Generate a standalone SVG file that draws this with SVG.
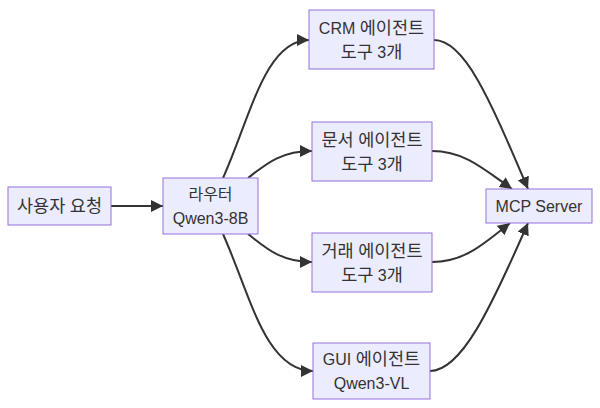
<svg xmlns="http://www.w3.org/2000/svg" width="600" height="408" viewBox="0 0 600 408">
<style>
.node rect{fill:#ECECFF;stroke:#9370DB;stroke-width:1}
.node text{font-family:"Liberation Sans","Noto Sans CJK KR",sans-serif;font-size:16px;fill:#333;text-anchor:middle}
.k{font-size:17.5px}
.edges path{fill:none;stroke:#333;stroke-width:2}
</style>
<defs>
<marker id="arr" viewBox="0 0 10 10" refX="10" refY="5" markerWidth="12" markerHeight="12" markerUnits="userSpaceOnUse" orient="auto">
<path d="M0,0 L10,5 L0,10 z" fill="#333"/>
</marker>
</defs>
<rect width="600" height="408" fill="#fff"/>
<g class="edges">
<path d="M111,206 L163,206" marker-end="url(#arr)"/>
<path d="M223,178 C250,118 265,40 309,40" marker-end="url(#arr)"/>
<path d="M248,178 C265,165 280,151 312,151" marker-end="url(#arr)"/>
<path d="M248,234 C265,247 280,262 312,262" marker-end="url(#arr)"/>
<path d="M223,234 C250,294 265,371 313,371" marker-end="url(#arr)"/>
<path d="M434,40 C465,40 490,100 528,189" marker-end="url(#arr)"/>
<path d="M432,151 C465,151 485,170 512,189" marker-end="url(#arr)"/>
<path d="M432,262 C465,262 485,243 510,223" marker-end="url(#arr)"/>
<path d="M430,371 C461,371 490,310 528,223" marker-end="url(#arr)"/>
</g>
<g id="user" class="node"><rect x="8" y="187" width="103" height="38"/><text x="59.5" y="211.5"><tspan class="k">사용자</tspan> <tspan class="k">요청</tspan></text></g>
<g id="router" class="node"><rect x="163" y="178" width="95" height="56"/><text x="210.5" y="199.5" class="k">라우터</text><text x="210.5" y="223.5">Qwen3-8B</text></g>
<g id="crm" class="node"><rect x="309" y="10" width="125" height="59"/><text x="371.5" y="34">CRM <tspan class="k">에이전트</tspan></text><text x="371.5" y="58"><tspan class="k">도구</tspan> 3<tspan class="k">개</tspan></text></g>
<g id="doc" class="node"><rect x="312" y="122" width="120" height="59"/><text x="372" y="146"><tspan class="k">문서</tspan> <tspan class="k">에이전트</tspan></text><text x="372" y="170"><tspan class="k">도구</tspan> 3<tspan class="k">개</tspan></text></g>
<g id="trade" class="node"><rect x="312" y="233" width="120" height="59"/><text x="372" y="257"><tspan class="k">거래</tspan> <tspan class="k">에이전트</tspan></text><text x="372" y="281"><tspan class="k">도구</tspan> 3<tspan class="k">개</tspan></text></g>
<g id="gui" class="node"><rect x="313" y="343" width="117" height="56"/><text x="371.5" y="364.5">GUI <tspan class="k">에이전트</tspan></text><text x="371.5" y="388.5">Qwen3-VL</text></g>
<g id="mcp" class="node"><rect x="486" y="189" width="106" height="34"/><text x="539" y="211.5">MCP Server</text></g>
</svg>
